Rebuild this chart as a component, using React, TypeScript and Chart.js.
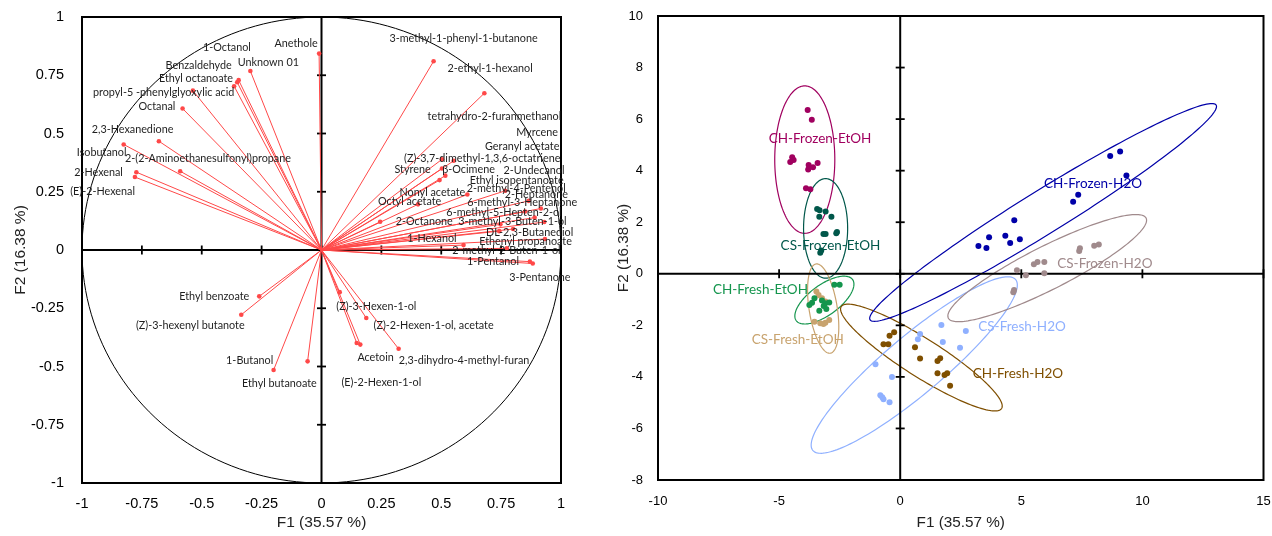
import React, { useEffect, useRef } from 'react';
import { Chart, registerables } from 'chart.js';
Chart.register(...registerables);

// ---------- Left panel: correlation circle (variables) ----------
const varNames = [
  '1-Octanol', 'Anethole', 'Benzaldehyde', 'Unknown 01', 'Ethyl octanoate',
  'propyl-5 -phenylglyoxylic acid', 'Octanal', '2,3-Hexanedione', 'Isobutanol',
  '2-(2-Aminoethanesulfonyl)propane', '2-Hexenal', '(E)-2-Hexenal',
  '3-methyl-1-phenyl-1-butanone', '2-ethyl-1-hexanol', 'tetrahydro-2-furanmethanol',
  'Myrcene', 'Geranyl acetate', '(Z)-3,7-dimethyl-1,3,6-octatriene', 'Styrene',
  'β-Ocimene', '2-Undecanol', 'Ethyl isopentanoate', '2-methyl-4-Pentenol',
  'Nonyl acetate', '2-Heptanone', 'Octyl acetate', '6-methyl-3-Heptanone',
  '6-methyl-5-Hepten-2-ol', '2-Octanone', '3-methyl-3-Buten-1-ol', 'DL-2,3-Butanediol',
  '1-Hexanol', 'Ethenyl propanoate', '2-methyl-2-Buten-1-ol', '1-Pentanol', '3-Pentanone',
  'Ethyl benzoate', '(Z)-3-hexenyl butanote', '1-Butanol', 'Ethyl butanoate',
  '(Z)-3-Hexen-1-ol', '(Z)-2-Hexen-1-ol, acetate', 'Acetoin',
  '2,3-dihydro-4-methyl-furan', '(E)-2-Hexen-1-ol',
];
const varF1 = [
  -0.346, -0.010, -0.352, -0.297, -0.365, -0.537, -0.580, -0.679, -0.826, -0.590, -0.773, -0.779,
  0.468, 0.680, 0.552, 0.767, 0.503, 0.503, 0.493, 0.517, 0.865, 0.916, 0.890, 0.609, 0.850,
  0.403, 0.930, 0.747, 0.245, 0.800, 0.742, 0.593, 0.933, 0.774, 0.882, 0.870,
  -0.260, -0.335, -0.200, -0.058, 0.076, 0.187, 0.147, 0.322, 0.162,
];
const varF2 = [
  0.729, 0.843, 0.720, 0.768, 0.703, 0.684, 0.607, 0.467, 0.453, 0.338, 0.334, 0.313,
  0.810, 0.673, 0.383, 0.254, 0.389, 0.350, 0.300, 0.319, 0.211, 0.178, 0.139, 0.238, 0.165,
  0.196, 0.120, 0.110, 0.121, 0.090, 0.081, 0.021, 0.047, 0.007, -0.058, -0.050,
  -0.199, -0.278, -0.515, -0.478, -0.181, -0.292, -0.399, -0.424, -0.406,
];
// label anchor positions (F1, F2 units)
const varLabelF1 = [
  -0.395, -0.106, -0.513, -0.222, -0.524, -0.659, -0.687, -0.789, -0.918, -0.474, -0.931, -0.914,
  0.593, 0.704, 0.722, 0.900, 0.838, 0.671, 0.380, 0.614, 0.887, 0.815, 0.813, 0.463, 0.897,
  0.368, 0.838, 0.762, 0.429, 0.797, 0.869, 0.461, 0.852, 0.772, 0.716, 0.912,
  -0.448, -0.548, -0.300, -0.176, 0.229, 0.468, 0.226, 0.595, 0.250,
];
const varLabelF2 = [
  0.869, 0.886, 0.792, 0.804, 0.738, 0.676, 0.614, 0.517, 0.417, 0.394, 0.333, 0.251,
  0.907, 0.777, 0.571, 0.503, 0.444, 0.394, 0.346, 0.346, 0.341, 0.297, 0.264, 0.245, 0.238,
  0.208, 0.202, 0.161, 0.121, 0.121, 0.074, 0.048, 0.035, -0.003, -0.048, -0.117,
  -0.199, -0.323, -0.473, -0.572, -0.242, -0.323, -0.461, -0.473, -0.568,
];

// ---------- Right panel: observations ----------
const groupNames = [
  'CH-Frozen-EtOH', 'CS-Frozen-EtOH', 'CH-Fresh-EtOH', 'CS-Fresh-EtOH',
  'CH-Fresh-H2O', 'CS-Fresh-H2O', 'CH-Frozen-H2O', 'CS-Frozen-H2O',
];
const groupColors = [
  '#a0005f', '#00574a', '#14954d', '#c8a36e',
  '#7f4f00', '#8fb0ff', '#0000a8', '#a08a8c',
];
const chFrozenEtohF1 = [-3.82, -3.65, -4.46, -4.40, -4.54, -3.78, -3.41, -3.60, -3.80, -3.89, -3.71];
const chFrozenEtohF2 = [6.35, 5.98, 4.52, 4.41, 4.34, 4.22, 4.30, 4.13, 4.05, 3.32, 3.28];
const csFrozenEtohF1 = [-3.43, -3.33, -3.08, -3.34, -2.84, -3.17, -3.08, -2.61, -2.64, -3.30, -3.26];
const csFrozenEtohF2 = [2.51, 2.46, 2.42, 2.21, 2.21, 1.54, 1.54, 1.62, 1.57, 0.82, 0.90];
const chFreshEtohF1 = [-2.72, -2.50, -3.54, -3.64, -3.75, -3.23, -3.09, -2.93, -3.16, -3.34, -3.05];
const chFreshEtohF2 = [-0.43, -0.43, -0.95, -1.12, -1.21, -1.04, -1.14, -1.11, -1.25, -1.43, -1.37];
const csFreshEtohF1 = [-3.46, -3.37, -3.23, -3.09, -3.54, -3.30, -3.09, -2.93, -3.17];
const csFreshEtohF2 = [-0.69, -0.82, -0.95, -1.08, -1.86, -1.92, -1.90, -1.79, -1.95];
const chFreshH2oF1 = [-0.44, -0.25, -0.69, -0.49, 0.61, 0.82, 1.54, 1.65, 1.54, 1.83, 1.94, 2.06];
const chFreshH2oF2 = [-2.40, -2.27, -2.73, -2.73, -2.85, -3.29, -3.38, -3.28, -3.86, -3.93, -3.86, -4.34];
const csFreshH2oF1 = [1.70, 2.71, 0.82, 0.73, 1.76, 2.47, -1.02, -0.34, -0.82, -0.74, -0.69, -0.44];
const csFreshH2oF2 = [-1.99, -2.22, -2.34, -2.54, -2.65, -2.87, -3.51, -4.00, -4.71, -4.79, -4.87, -4.98];
const chFrozenH2oF1 = [8.67, 9.08, 9.34, 7.35, 7.14, 4.71, 4.34, 3.67, 4.54, 4.94, 3.23, 3.56];
const chFrozenH2oF2 = [4.57, 4.74, 3.81, 3.07, 2.79, 2.08, 1.48, 1.42, 1.19, 1.34, 1.08, 1.00];
const csFrozenH2oF1 = [7.42, 7.39, 8.01, 8.20, 5.52, 5.67, 5.95, 4.82, 5.19, 5.95, 4.70, 4.67];
const csFrozenH2oF2 = [0.99, 0.88, 1.09, 1.14, 0.37, 0.46, 0.46, 0.14, -0.06, 0.02, -0.63, -0.72];
const groupF1 = [chFrozenEtohF1, csFrozenEtohF1, chFreshEtohF1, csFreshEtohF1, chFreshH2oF1, csFreshH2oF1, chFrozenH2oF1, csFrozenH2oF1];
const groupF2 = [chFrozenEtohF2, csFrozenEtohF2, chFreshEtohF2, csFreshEtohF2, chFreshH2oF2, csFreshH2oF2, chFrozenH2oF2, csFrozenH2oF2];

// confidence ellipses: centre, semi-axes, angle (degrees, in F1/F2 units)
const ellCx = [-3.94, -3.08, -3.13, -3.18, 0.875, 0.58, 5.90, 6.07];
const ellCy = [4.43, 1.76, -1.02, -1.35, -3.25, -3.54, 2.38, 0.22];
const ellA = [2.86, 1.93, 1.41, 1.756, 3.856, 5.34, 8.27, 4.52];
const ellB = [1.24, 0.91, 0.6, 0.58, 0.75, 1.15, 0.85, 0.85];
const ellAngle = [90, 90, 33.7, 99.8, -30.7, 38.2, 30.2, 25.3];
// group label anchors
const groupLabelF1 = [-3.31, -2.88, -5.77, -4.23, 4.86, 5.03, 7.96, 8.45];
const groupLabelF2 = [5.24, 1.09, -0.63, -2.57, -3.88, -2.06, 3.51, 0.39];

const TICK_FONT = "'Liberation Sans', Arial, sans-serif";
const LABEL_FONT = "Lato, 'Open Sans', sans-serif";
const RED = 'rgb(255,72,72)';

function strokeLine(ctx: CanvasRenderingContext2D, x1: number, y1: number, x2: number, y2: number) {
  ctx.beginPath();
  ctx.moveTo(x1, y1);
  ctx.lineTo(x2, y2);
  ctx.stroke();
}

function drawEllipse(chart: any, cx: number, cy: number, a: number, b: number, angDeg: number, color: string, width: number) {
  const { ctx, scales: { x, y } } = chart;
  const th = (angDeg * Math.PI) / 180;
  ctx.beginPath();
  for (let k = 0; k <= 360; k += 2) {
    const t = (k * Math.PI) / 180;
    const dx = a * Math.cos(t) * Math.cos(th) - b * Math.sin(t) * Math.sin(th);
    const dy = a * Math.cos(t) * Math.sin(th) + b * Math.sin(t) * Math.cos(th);
    const px = x.getPixelForValue(cx + dx);
    const py = y.getPixelForValue(cy + dy);
    if (k === 0) ctx.moveTo(px, py); else ctx.lineTo(px, py);
  }
  ctx.closePath();
  ctx.strokeStyle = color;
  ctx.lineWidth = width;
  ctx.stroke();
}

const framePlugin = {
  id: 'frameAxes',
  beforeDatasetsDraw(chart: any, _args: any, opts: any) {
    const { ctx, chartArea: a, scales: { x, y } } = chart;
    ctx.save();
    ctx.beginPath();
    ctx.rect(a.left, a.top, a.width, a.height);
    ctx.clip();
    if (opts.circle) drawEllipse(chart, 0, 0, 1, 1, 0, '#000', 1);
    if (opts.ellipses) {
      for (let i = 0; i < ellCx.length; i++) {
        drawEllipse(chart, ellCx[i], ellCy[i], ellA[i], ellB[i], ellAngle[i], groupColors[i], 1.2);
      }
    }
    ctx.restore();
    ctx.save();
    ctx.strokeStyle = '#000';
    ctx.lineWidth = 2;
    ctx.strokeRect(a.left, a.top, a.width, a.height);
    const x0 = x.getPixelForValue(0);
    const y0 = y.getPixelForValue(0);
    strokeLine(ctx, a.left, y0, a.right, y0);
    strokeLine(ctx, x0, a.top, x0, a.bottom);
    ctx.lineWidth = 1.8;
    x.ticks.forEach((t: any) => {
      const px = x.getPixelForValue(t.value);
      strokeLine(ctx, px, y0 - 4.5, px, y0 + 4.5);
    });
    y.ticks.forEach((t: any) => {
      const py = y.getPixelForValue(t.value);
      strokeLine(ctx, x0 - 4.5, py, x0 + 4.5, py);
    });
    ctx.restore();
  },
};

const leftLabelPlugin = {
  id: 'leftLabels',
  afterDatasetsDraw(chart: any) {
    const { ctx, scales: { x, y } } = chart;
    ctx.save();
    ctx.font = `10.8px ${LABEL_FONT}`;
    ctx.fillStyle = '#1e1e1e';
    ctx.textAlign = 'center';
    ctx.textBaseline = 'middle';
    varNames.forEach((n, i) => {
      ctx.fillText(n, x.getPixelForValue(varLabelF1[i]), y.getPixelForValue(varLabelF2[i]));
    });
    ctx.restore();
  },
};

const rightLabelPlugin = {
  id: 'rightLabels',
  afterDatasetsDraw(chart: any) {
    const { ctx, scales: { x, y } } = chart;
    ctx.save();
    ctx.font = `13.5px ${LABEL_FONT}`;
    ctx.textAlign = 'center';
    ctx.textBaseline = 'middle';
    groupNames.forEach((n, i) => {
      ctx.fillStyle = groupColors[i];
      ctx.fillText(n, x.getPixelForValue(groupLabelF1[i]), y.getPixelForValue(groupLabelF2[i]));
    });
    ctx.restore();
  },
};

function axis(min: number, max: number, step: number, title: string, opts: any) {
  return {
    type: 'linear',
    min,
    max,
    grid: { display: false, drawTicks: false },
    border: { display: false },
    ticks: {
      stepSize: step,
      autoSkip: false,
      maxRotation: 0,
      padding: opts.tickPad,
      color: '#000',
      font: { family: TICK_FONT, size: opts.tickSize },
      callback: (v: number) => String(Math.round(v * 100) / 100),
    },
    title: {
      display: true,
      text: title,
      color: '#222',
      font: { family: TICK_FONT, size: opts.titleSize },
      padding: opts.titlePad,
    },
    afterFit: opts.afterFit,
  };
}

const fitX = (h: number) => (s: any) => {
  s.height = h;
  s.paddingLeft = 0;
  s.paddingRight = 0;
  s.paddingTop = 0;
  s.paddingBottom = 0;
};
const fitY = (w: number) => (s: any) => {
  s.width = w;
  s.paddingLeft = 0;
  s.paddingRight = 0;
  s.paddingTop = 0;
  s.paddingBottom = 0;
};

export default function App() {
  const leftRef = useRef<HTMLCanvasElement>(null);
  const rightRef = useRef<HTMLCanvasElement>(null);

  useEffect(() => {
    const leftDatasets = varNames.map((n, i) => ({
      label: n,
      data: [{ x: 0, y: 0 }, { x: varF1[i], y: varF2[i] }],
      showLine: true,
      borderColor: RED,
      borderWidth: 1,
      pointRadius: [0, 2.3],
      pointBackgroundColor: RED,
      pointBorderWidth: 0,
    }));

    const c1 = new Chart(leftRef.current as HTMLCanvasElement, {
      type: 'scatter',
      data: { datasets: leftDatasets as any },
      options: {
        animation: false,
        responsive: true,
        maintainAspectRatio: false,
        layout: { padding: { left: 0, right: 39, top: 17, bottom: 0 } },
        plugins: { legend: { display: false }, tooltip: { enabled: false }, frameAxes: { circle: true } } as any,
        scales: {
          x: axis(-1, 1, 0.25, 'F1 (35.57 %)', {
            tickPad: 12, tickSize: 14.5, titleSize: 15.5, titlePad: { top: 0, bottom: 4 },
            afterFit: fitX(53),
          }),
          y: axis(-1, 1, 0.25, 'F2 (16.38 %)', {
            tickPad: 18, tickSize: 14.5, titleSize: 15.5, titlePad: { top: 11, bottom: 0 },
            afterFit: fitY(82),
          }),
        } as any,
      },
      plugins: [framePlugin, leftLabelPlugin],
    });

    const rightDatasets = groupNames.map((n, i) => ({
      label: n,
      data: groupF1[i].map((v, k) => ({ x: v, y: groupF2[i][k] })),
      pointRadius: 3,
      pointBackgroundColor: groupColors[i],
      pointBorderWidth: 0,
      borderColor: groupColors[i],
    }));

    const c2 = new Chart(rightRef.current as HTMLCanvasElement, {
      type: 'scatter',
      data: { datasets: rightDatasets as any },
      options: {
        animation: false,
        responsive: true,
        maintainAspectRatio: false,
        layout: { padding: { left: 0, right: 8.5, top: 16, bottom: 0 } },
        plugins: { legend: { display: false }, tooltip: { enabled: false }, frameAxes: { ellipses: true } } as any,
        scales: {
          x: axis(-10, 15, 5, 'F1 (35.57 %)', {
            tickPad: 14, tickSize: 13, titleSize: 15.3, titlePad: { top: 0, bottom: 4 },
            afterFit: fitX(56),
          }),
          y: axis(-8, 10, 2, 'F2 (16.38 %)', {
            tickPad: 15, tickSize: 13, titleSize: 15.3, titlePad: { top: 15, bottom: 0 },
            afterFit: fitY(58),
          }),
        } as any,
      },
      plugins: [framePlugin, rightLabelPlugin],
    });

    return () => {
      c1.destroy();
      c2.destroy();
    };
  }, []);

  return (
    <div style={{ position: 'absolute', left: 0, top: 0, width: 1272, height: 536, background: '#fff' }}>
      <div style={{ position: 'absolute', left: 0, top: 0, width: 600, height: 536 }}>
        <canvas ref={leftRef} />
      </div>
      <div style={{ position: 'absolute', left: 600, top: 0, width: 672, height: 536 }}>
        <canvas ref={rightRef} />
      </div>
    </div>
  );
}
